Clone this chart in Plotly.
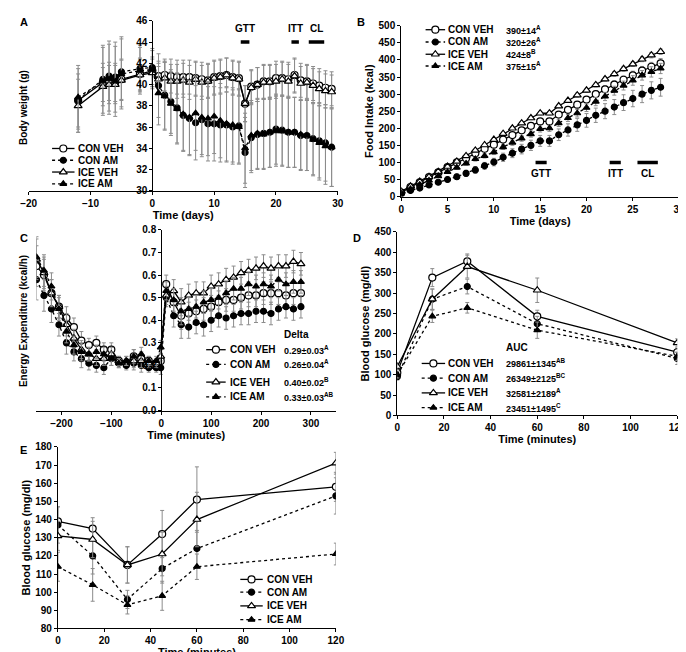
import plotly.graph_objects as go

W, H = 686, 652
SERIES = ["CON VEH", "CON AM", "ICE VEH", "ICE AM"]

# ---------- Panel A: body weight ----------
a_days = [-12, -8, -7, -6, -5, -2, 0, 1, 2, 3, 4, 5, 6, 7, 8, 9, 10, 11, 12, 13, 14, 15, 16, 17, 18, 19, 20, 21, 22, 23, 24, 25, 26, 27, 28, 29]
a_con_veh = [38.5, 40.2, 40.3, 40.2, 40.5, 41.0, 41.3, 40.8, 40.9, 40.8, 40.7, 40.7, 40.7, 40.6, 40.5, 40.4, 40.7, 40.8, 40.9, 40.7, 40.6, 38.2, 39.8, 40.0, 40.3, 40.3, 40.6, 40.6, 40.5, 40.9, 40.4, 40.3, 40.1, 39.9, 39.7, 39.6]
a_con_am = [38.5, 40.5, 40.8, 40.7, 41.2, 41.5, 41.6, 39.9, 39.0, 38.4, 37.8, 37.1, 36.8, 36.4, 36.7, 36.3, 36.3, 36.2, 36.2, 36.0, 36.1, 33.6, 35.0, 35.3, 35.4, 35.5, 35.8, 35.7, 35.5, 35.5, 35.2, 35.2, 34.9, 34.7, 34.5, 34.1]
a_ice_veh = [38.0, 39.8, 40.0, 40.0, 40.4, 40.9, 41.1, 40.5, 40.6, 40.3, 40.3, 40.4, 40.2, 40.5, 40.2, 40.3, 40.6, 40.7, 40.9, 40.6, 40.5, 38.2, 39.7, 40.0, 40.2, 40.2, 40.3, 40.5, 40.3, 40.8, 40.1, 40.2, 39.9, 39.6, 39.4, 39.3]
a_ice_am = [38.8, 40.3, 40.5, 40.3, 41.0, 41.3, 41.4, 39.2, 38.9, 38.2, 37.7, 37.2, 36.9, 37.3, 36.9, 36.8, 37.0, 36.6, 36.3, 36.2, 36.0, 34.0, 35.2, 35.4, 35.3, 35.5, 35.6, 35.6, 35.5, 35.5, 35.3, 35.2, 34.8, 34.5, 34.2, 34.1]
a_err_veh = [2.5, 1.8, 1.8, 1.8, 1.9, 1.5, 1.3, 1.2, 1.5, 1.6, 1.6, 1.6, 1.6, 1.6, 1.6, 1.6, 1.6, 1.6, 1.6, 1.6, 1.6, 1.7, 1.6, 1.6, 1.6, 1.6, 1.6, 1.6, 1.6, 1.6, 1.6, 1.6, 1.6, 1.6, 1.6, 1.6]
a_err_am = [3.0, 3.2, 3.3, 3.3, 3.3, 2.2, 1.8, 3.0, 3.2, 3.0, 3.3, 3.4, 3.5, 3.5, 3.5, 3.5, 3.5, 3.5, 3.5, 3.5, 3.5, 3.3, 3.3, 3.3, 3.3, 3.3, 3.3, 3.3, 3.3, 3.3, 3.3, 3.3, 3.4, 3.5, 3.6, 3.7]

# ---------- Panel B: food intake ----------
b_days = list(range(0, 29))
b_con_veh = [12, 28, 42, 57, 71, 86, 100, 112, 127, 140, 152, 167, 180, 194, 207, 220, 220, 240, 254, 269, 284, 300, 314, 328, 342, 355, 369, 380, 390]
b_con_am = [8, 18, 25, 34, 42, 50, 58, 68, 78, 90, 101, 115, 127, 139, 150, 163, 163, 181, 195, 210, 223, 238, 250, 262, 275, 287, 300, 311, 320]
b_ice_veh = [15, 30, 44, 58, 73, 88, 103, 119, 135, 151, 167, 184, 200, 215, 230, 244, 244, 265, 281, 297, 311, 327, 344, 359, 374, 388, 402, 414, 424]
b_ice_am = [10, 22, 35, 47, 60, 72, 85, 97, 110, 119, 130, 145, 158, 170, 183, 198, 200, 215, 230, 244, 260, 278, 293, 310, 325, 340, 355, 365, 375]
b_err_con_veh = [2, 2, 3, 3, 3, 4, 4, 5, 5, 5, 6, 6, 7, 7, 7, 8, 8, 8, 9, 9, 9, 10, 10, 11, 11, 12, 12, 13, 14]
b_err_con_am = [2, 3, 4, 5, 6, 7, 8, 9, 10, 10, 11, 12, 13, 14, 15, 16, 16, 17, 18, 19, 20, 21, 22, 22, 23, 24, 25, 25, 26]
b_err_ice_veh = [1, 1, 2, 2, 2, 2, 3, 3, 3, 3, 4, 4, 4, 4, 5, 5, 5, 5, 5, 6, 6, 6, 6, 7, 7, 7, 7, 8, 8]
b_err_ice_am = [2, 2, 3, 3, 4, 4, 5, 5, 6, 6, 7, 7, 8, 8, 9, 9, 9, 10, 10, 11, 11, 12, 12, 13, 13, 14, 14, 15, 15]
b_values = ["390±14<sup>A</sup>", "320±26<sup>A</sup>", "424±8<sup>B</sup>", "375±15<sup>A</sup>"]

# ---------- Panel C: energy expenditure ----------
c_min = [-250, -235, -220, -205, -190, -175, -160, -145, -130, -115, -100, -85, -70, -55, -40, -25, -10, -1,
         10, 25, 40, 55, 70, 85, 100, 115, 130, 145, 160, 175, 190, 205, 220, 235, 250, 265, 280]
c_con_veh = [0.64, 0.60, 0.52, 0.46, 0.41, 0.37, 0.31, 0.29, 0.30, 0.27, 0.27, 0.22, 0.21, 0.24, 0.23, 0.22, 0.21, 0.22,
             0.56, 0.48, 0.42, 0.43, 0.44, 0.45, 0.46, 0.48, 0.49, 0.49, 0.50, 0.51, 0.51, 0.52, 0.52, 0.52, 0.51, 0.52, 0.52]
c_con_am = [0.58, 0.51, 0.45, 0.38, 0.30, 0.26, 0.23, 0.21, 0.20, 0.19, 0.23, 0.21, 0.20, 0.21, 0.20, 0.19, 0.19, 0.19,
            0.50, 0.42, 0.38, 0.37, 0.39, 0.38, 0.40, 0.42, 0.41, 0.42, 0.43, 0.43, 0.44, 0.44, 0.43, 0.45, 0.46, 0.45, 0.46]
c_ice_veh = [0.67, 0.61, 0.52, 0.46, 0.38, 0.32, 0.27, 0.25, 0.23, 0.23, 0.25, 0.22, 0.22, 0.22, 0.22, 0.21, 0.21, 0.24,
             0.51, 0.53, 0.48, 0.51, 0.52, 0.52, 0.55, 0.56, 0.58, 0.59, 0.61, 0.62, 0.63, 0.64, 0.63, 0.64, 0.64, 0.66, 0.65]
c_ice_am = [0.68, 0.62, 0.55, 0.45, 0.35, 0.29, 0.26, 0.25, 0.26, 0.25, 0.23, 0.21, 0.22, 0.24, 0.25, 0.22, 0.22, 0.28,
            0.53, 0.49, 0.44, 0.45, 0.46, 0.48, 0.49, 0.50, 0.52, 0.54, 0.54, 0.56, 0.55, 0.56, 0.55, 0.58, 0.56, 0.57, 0.57]
c_err = [0.09, 0.07, 0.06, 0.05, 0.05, 0.04, 0.04, 0.03, 0.03, 0.03, 0.03, 0.02, 0.02, 0.03, 0.03, 0.02, 0.02, 0.03,
         0.04, 0.05, 0.06, 0.05, 0.05, 0.05, 0.05, 0.05, 0.05, 0.05, 0.05, 0.05, 0.05, 0.05, 0.05, 0.05, 0.05, 0.05, 0.05]
c_values = ["0.29±0.03<sup>A</sup>", "0.26±0.04<sup>A</sup>", "0.40±0.02<sup>B</sup>", "0.33±0.03<sup>AB</sup>"]

# ---------- Panel D: GTT ----------
d_min = [0, 15, 30, 60, 120]
d_con_veh = [105, 338, 378, 243, 155]
d_con_am = [95, 285, 316, 225, 140]
d_ice_veh = [120, 285, 365, 307, 178]
d_ice_am = [100, 243, 264, 209, 145]
d_err_con_veh = [10, 22, 18, 15, 10]
d_err_con_am = [8, 25, 18, 18, 15]
d_err_ice_veh = [8, 25, 28, 30, 10]
d_err_ice_am = [8, 15, 13, 20, 10]
d_values = ["29861±1345<sup>AB</sup>", "26349±2125<sup>BC</sup>", "32581±2189<sup>A</sup>", "23451±1495<sup>C</sup>"]

# ---------- Panel E: ITT ----------
e_min = [0, 15, 30, 45, 60, 120]
e_con_veh = [139, 135, 115, 132, 151, 158]
e_con_am = [137, 120, 96, 113, 124, 153]
e_ice_veh = [131, 129, 115, 121, 140, 171]
e_ice_am = [114, 104, 93, 98, 114, 121]
e_err_con_veh = [8, 6, 10, 13, 18, 8]
e_err_con_am = [10, 10, 5, 8, 10, 10]
e_err_ice_veh = [8, 10, 10, 12, 15, 6]
e_err_ice_am = [8, 9, 5, 8, 7, 6]

STYLE = {
    "CON VEH": dict(symbol="circle", fill="white", size=7, dash="solid"),
    "CON AM": dict(symbol="circle", fill="black", size=6, dash="dot"),
    "ICE VEH": dict(symbol="triangle-up", fill="white", size=7, dash="solid"),
    "ICE AM": dict(symbol="triangle-up", fill="black", size=6, dash="dot"),
}

fig = go.Figure()

def add(name, x, y, err, ax):
    s = STYLE[name]
    fig.add_trace(go.Scatter(
        x=x, y=y, mode="lines+markers", showlegend=False, xaxis="x" + ax, yaxis="y" + ax,
        line=dict(color="black", width=1.3, dash=s["dash"]),
        marker=dict(symbol=s["symbol"], size=s["size"], color=s["fill"], line=dict(color="black", width=1.2)),
        error_y=dict(type="data", array=err, color="#8c8c8c", thickness=1, width=2),
    ))

for n, y, e in zip(SERIES, [a_con_veh, a_con_am, a_ice_veh, a_ice_am], [a_err_veh, a_err_am, a_err_veh, a_err_am]):
    add(n, a_days, y, e, "")
for n, y, e in zip(SERIES, [b_con_veh, b_con_am, b_ice_veh, b_ice_am], [b_err_con_veh, b_err_con_am, b_err_ice_veh, b_err_ice_am]):
    add(n, b_days, y, e, "2")
for n, y in zip(SERIES, [c_con_veh, c_con_am, c_ice_veh, c_ice_am]):
    add(n, c_min, y, c_err, "3")
for n, y, e in zip(SERIES, [d_con_veh, d_con_am, d_ice_veh, d_ice_am], [d_err_con_veh, d_err_con_am, d_err_ice_veh, d_err_ice_am]):
    add(n, d_min, y, e, "4")
for n, y, e in zip(SERIES, [e_con_veh, e_con_am, e_ice_veh, e_ice_am], [e_err_con_veh, e_err_con_am, e_err_ice_veh, e_err_ice_am]):
    add(n, e_min, y, e, "5")

# ---------- manual legends on a pixel overlay axis ----------
annotations = []
def legend(x0, L, ys, tx, values=None, vx=None, header=None, hy=None):
    for n, yy, i in zip(SERIES, ys, range(4)):
        s = STYLE[n]
        fig.add_trace(go.Scatter(x=[x0, x0 + L], y=[yy, yy], mode="lines", xaxis="x6", yaxis="y6", showlegend=False,
                                 line=dict(color="black", width=1.3, dash=s["dash"]), hoverinfo="skip"))
        fig.add_trace(go.Scatter(x=[x0 + L / 2], y=[yy], mode="markers", xaxis="x6", yaxis="y6", showlegend=False,
                                 marker=dict(symbol=s["symbol"], size=s["size"], color=s["fill"], line=dict(color="black", width=1.2)),
                                 hoverinfo="skip"))
        annotations.append(dict(x=tx, y=yy, xref="x6", yref="y6", text=n, showarrow=False, xanchor="left", yanchor="middle"))
        if values:
            annotations.append(dict(x=vx, y=yy, xref="x6", yref="y6", text=values[i], showarrow=False, xanchor="left", yanchor="middle", font=dict(size=9)))
    if header:
        annotations.append(dict(x=vx, y=hy, xref="x6", yref="y6", text=header, showarrow=False, xanchor="left", yanchor="middle"))

legend(37, 23, [137, 149, 161, 173], 62)
legend(420, 20, [16, 28.5, 41, 53], 441, b_values, 500)
legend(195, 20, [342, 357, 375, 390], 217, c_values, 273, "Delta", 327)
legend(416, 24, [356, 371, 386, 401], 441, d_values, 500, "AUC", 340)
legend(230, 23, [576, 589, 603, 617], 255, None)

# panel letters and free y titles
for t, x, y in [("A", 8, 8), ("B", 354, 8), ("C", 8, 228), ("D", 350, 228), ("E", 8, 444)]:
    annotations.append(dict(x=x, y=y, xref="x6", yref="y6", text=t, showarrow=False, font=dict(size=11)))
annotations.append(dict(x=7, y=95, xref="x6", yref="y6", text="Body weight (g)", textangle=-90, showarrow=False))
annotations.append(dict(x=7, y=313, xref="x6", yref="y6", text="Energy Expenditure (kcal/h)", textangle=-90, showarrow=False))

# experiment bars
shapes = []
for lbl, x0, x1 in [("GTT", 14.3, 15.7), ("ITT", 22.5, 23.7), ("CL", 25.3, 27.8)]:
    shapes.append(dict(type="line", xref="x", yref="y", x0=x0, x1=x1, y0=44, y1=44, line=dict(color="black", width=3.5)))
    annotations.append(dict(x=(x0 + x1) / 2, y=45.3, xref="x", yref="y", text=lbl, showarrow=False))
for lbl, x0, x1 in [("GTT", 14.5, 15.7), ("ITT", 22.5, 23.7), ("CL", 25.5, 27.7)]:
    shapes.append(dict(type="line", xref="x2", yref="y2", x0=x0, x1=x1, y0=100, y1=100, line=dict(color="black", width=3.5)))
    annotations.append(dict(x=(x0 + x1) / 2, y=67, xref="x2", yref="y2", text=lbl, showarrow=False))

def ax(dom, rng, dtick, title=None, standoff=2, **kw):
    d = dict(domain=dom, range=rng, dtick=dtick, showline=True, linecolor="black", linewidth=1, ticks="outside",
             ticklen=3, tickcolor="black", showgrid=False, zeroline=False, tickfont=dict(size=10))
    if title:
        d["title"] = dict(text=title, standoff=standoff, font=dict(size=11))
    d.update(kw)
    return d

fig.update_layout(
    width=W, height=H, margin=dict(l=0, r=0, t=0, b=0), plot_bgcolor="rgba(0,0,0,0)", paper_bgcolor="white",
    font=dict(family="Liberation Sans", size=10, color="black", weight="bold"),
    xaxis=ax([13 / W, 330 / W], [-20, 30], 10, "Time (days)", anchor="y"),
    yaxis=ax([1 - 180 / H, 1 - 7 / H], [30, 46], 2, anchor="free", position=(13 + 0.4 * 317) / W),
    xaxis2=ax([395 / W, 680 / W], [0, 30], 5, "Time (days)", anchor="y2"),
    yaxis2=ax([1 - 186 / H, 1 - 12 / H], [0, 500], 50, "Food Intake (kcal)", anchor="x2"),
    xaxis3=ax([21 / W, 328 / W], [-250, 350], 100, "Time (minutes)", anchor="y3"),
    yaxis3=ax([1 - 404 / H, 1 - 220 / H], [0, 0.8], 0.1, anchor="free", position=(21 + 250 / 600 * 307) / W, tickformat=".1f"),
    xaxis4=ax([391 / W, 678 / W], [0, 120], 20, "Time (minutes)", 0, anchor="y4"),
    yaxis4=ax([1 - 409 / H, 1 - 222 / H], [0, 450], 50, "Blood glucose (mg/dl)", anchor="x4"),
    xaxis5=ax([43 / W, 328 / W], [0, 120], 20, "Time (minutes)", 0, anchor="y5"),
    yaxis5=ax([1 - 626 / H, 1 - 441 / H], [80, 180], 10, "Blood glucose (mg/dl)", anchor="x5"),
    xaxis6=dict(domain=[0, 1], range=[0, W], visible=False, anchor="y6", fixedrange=True),
    yaxis6=dict(domain=[0, 1], range=[H, 0], visible=False, anchor="x6", fixedrange=True),
    annotations=annotations, shapes=shapes,
)
fig.write_html("out.html")
